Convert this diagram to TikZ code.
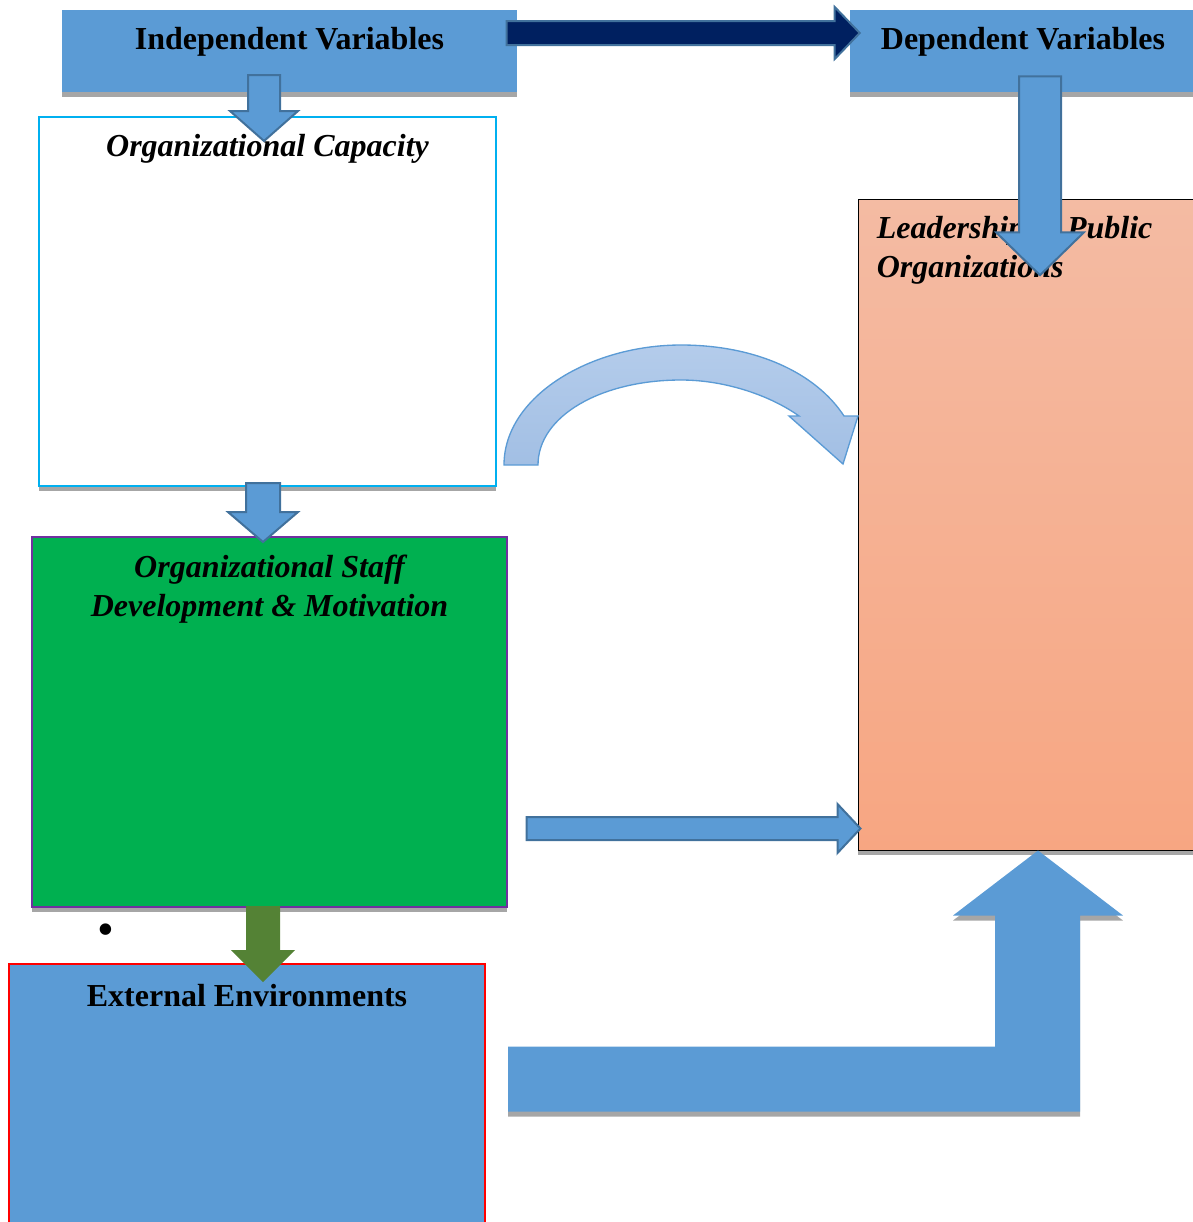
\documentclass[tikz,border=0pt]{standalone}
\usepackage{fontspec}
\setmainfont{Liberation Serif}
\usetikzlibrary{positioning, calc, fit, shadows}
\definecolor{varblue}{RGB}{91, 155, 213}
\definecolor{edgeblue}{RGB}{65, 113, 156}
\definecolor{navy1}{RGB}{0, 32, 96}
\definecolor{staffgreen}{RGB}{0, 176, 80}
\definecolor{violet1}{RGB}{112, 48, 160}
\definecolor{capcyan}{RGB}{0, 176, 240}
\definecolor{envgreen}{RGB}{84, 130, 53}
\definecolor{shadegray}{RGB}{166, 166, 166}
\definecolor{arctop}{RGB}{180, 204, 235}
\definecolor{arcbot}{RGB}{162, 191, 228}
\definecolor{leadtop}{RGB}{244, 187, 163}
\definecolor{leadbot}{RGB}{247, 166, 130}
\tikzset{
  shadowed/.style={drop shadow={shadow xshift=0pt, shadow yshift=-3.75pt, fill=shadegray, opacity=1}},
  varbox/.style={fill=varblue, inner sep=0pt, shadowed},
  conbox/.style={draw, line width=1.5pt, inner sep=0pt},
  boldtext/.style={font=\fontsize{24}{29}\selectfont\bfseries, inner sep=0pt, anchor=base},
  itext/.style={boldtext, font=\fontsize{24}{29}\selectfont\bfseries\itshape},
  barrow/.style={fill=varblue, draw=edgeblue, line width=1.5pt},
}

\begin{document}
\begin{tikzpicture}[x=0.75pt, y=-0.75pt]
  \useasboundingbox (0,0) rectangle (1193,1222);
  \clip (0,0) rectangle (1193,1222);
  % boxes
  \node[varbox, fit={(62,10) (517,92)}] (iv) {};
  \node[varbox, fit={(850,10) (1196,92)}] (dv) {};
  \node[conbox, draw=capcyan, fill=white, shadowed, fit={(39,117) (496,486)}] (oc) {};
  \node[conbox, draw=violet1, fill=staffgreen, shadowed, fit={(32,537) (507,907)}] (sd) {};
  \node[conbox, draw=red, fill=varblue, fit={(9,964) (485,1240)}] (ee) {};
  \node[draw=black, line width=0.75pt, top color=leadtop, bottom color=leadbot, shadowed, inner sep=0pt, fit={(858,199) (1200,850)}] (lead) {};
  % texts
  \node[boldtext] (ivt) at ($(iv.north)+(0,40)$) {Independent Variables};
  \node[boldtext] (dvt) at ($(dv.north)+(0,40)$) {Dependent Variables};
  \node[itext] (oct) at ($(oc.north)+(0,40)$) {Organizational Capacity};
  \node[itext, align=center] (sdt) at ($(sd.north)+(0,80)$) {Organizational Staff\\Development \& Motivation};
  \node[itext, align=left, anchor=base west] (leadt) at ($(lead.north west)+(19,79)$) {Leadership in Public\\Organizations};
  \node[boldtext] (eet) at ($(ee.north)+(0,43)$) {External Environments};
  \node[font=\fontsize{36}{40}\selectfont, inner sep=0pt] (bul) at (106,935) {\textbullet};
  % block arrows
  \coordinate (capTip) at ($(oc.north)+(-3.5,25)$);
  \draw[barrow] (capTip) -- ++(-34,-30) -- ++(18,0) -- ++(0,-36) -- ++(32,0) -- ++(0,36) -- ++(18,0) -- cycle;
  \coordinate (varTip) at ($(dv.west)+(10,-18)$);
  \draw[barrow, fill=navy1] (varTip) -- ++(-25,-26) -- ++(0,14) -- ++(-328,0) -- ++(0,24) -- ++(328,0) -- ++(0,14) -- cycle;
  \coordinate (depTip) at ($(dv.south)+(17,183)$);
  \draw[barrow] (depTip) -- ++(-44,-43) -- ++(23,0) -- ++(0,-156) -- ++(42,0) -- ++(0,156) -- ++(23,0) -- cycle;
  \coordinate (staffTip) at ($(sd.north)+(-6.5,6)$);
  \draw[barrow] (staffTip) -- ++(-35,-30) -- ++(18,0) -- ++(0,-29) -- ++(34,0) -- ++(0,29) -- ++(18,0) -- cycle;
  \coordinate (envTip) at ($(ee.north)+(16,19)$);
  \fill[envgreen] (envTip) -- ++(-32,-32) -- ++(15,0) -- ++(0,-44) -- ++(34,0) -- ++(0,44) -- ++(15,0) -- cycle;
  \coordinate (leadTip) at ($(lead.south west)+(3,-22)$);
  \draw[barrow] (leadTip) -- ++(-23,-24.5) -- ++(0,13) -- ++(-311,0) -- ++(0,23) -- ++(311,0) -- ++(0,13) -- cycle;
  \coordinate (envLeadTip) at ($(lead.south)+(9,0)$);
  \fill[varblue, shadowed] (envLeadTip) -- ++(85,65) -- ++(-43,0) -- ++(0,196) -- ++(-572,0) -- ++(0,-65) -- ++(487,0) -- ++(0,-131) -- ++(-42,0) -- cycle;
  % curved arrow
  \coordinate (arcStart) at ($(oc.south east)+(7,-22)$);
  \draw[draw=varblue, line width=1pt, top color=arctop, bottom color=arcbot] (arcStart)
    .. controls +(0,-69) and +(-90,0) .. ++(177,-120)
    .. controls +(75,0) and +(-28,-43) .. ++(163,71)
    -- ++(14,0) -- ++(-15,48) -- ++(-54,-48) -- ++(10,0)
    .. controls +(-28,-20) and +(45,0) .. ++(-118,-36)
    .. controls +(-80,0) and +(0,-49) .. ++(-143,85) -- cycle;
\end{tikzpicture}
\end{document}
